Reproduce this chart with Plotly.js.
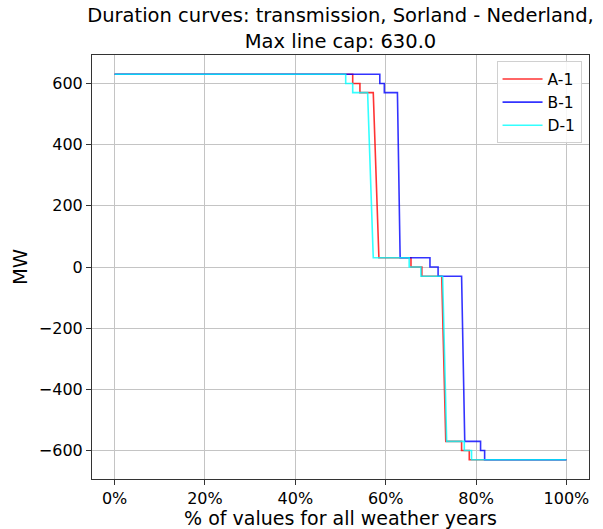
<!DOCTYPE html>
<html>
<head>
<meta charset="utf-8">
<script src="https://cdn.plot.ly/plotly-3.0.1.min.js"></script>
<style>
  html, body { margin: 0; padding: 0; background: #fff; }
  #chart { width: 603px; height: 529px; }
</style>
</head>
<body>
<div id="chart"></div>
<script>
// Flow levels (MW) visited by every duration curve, from highest to lowest.
const levels = [630, 630, 600, 600, 570, 570, 30, 30, 0, 0, -30, -30, -570, -570, -600, -600, -630, -630];

// Share of hours (%) at which each curve reaches the corresponding level.
const pctA1 = [0, 52.7, 52.7, 54.3, 54.3, 57.25, 58.5, 65.6, 65.6, 68.0, 68.0, 72.4, 73.3, 76.8, 76.8, 78.5, 78.5, 100];
const pctB1 = [0, 58.7, 58.7, 59.7, 59.7, 62.6, 63.2, 69.8, 69.8, 71.6, 71.6, 76.8, 77.5, 81.0, 81.0, 81.9, 81.9, 100];
const pctD1 = [0, 51.15, 51.15, 52.7, 52.7, 56.0, 57.25, 65.2, 65.2, 67.8, 67.8, 72.6, 73.5, 77.4, 77.4, 79.0, 79.0, 100];

const seriesNames = ['A-1', 'B-1', 'D-1'];
const seriesPct = [pctA1, pctB1, pctD1];
const seriesColors = ['rgba(255,0,0,0.8)', 'rgba(0,0,255,0.8)', 'rgba(0,255,255,0.8)'];

const xTickVals = [0, 20, 40, 60, 80, 100];
const xTickText = xTickVals.map(v => v + '%');
const yTickVals = [-600, -400, -200, 0, 200, 400, 600];

const traces = seriesNames.map((name, i) => ({
  type: 'scatter',
  mode: 'lines',
  name: name,
  x: seriesPct[i],
  y: levels,
  line: { color: seriesColors[i], width: 1.6 },
  hoverinfo: 'x+y+name'
}));

const font = { family: 'DejaVu Sans, sans-serif', color: '#000' };

const axisCommon = {
  showgrid: true,
  gridcolor: '#c4c4c4',
  gridwidth: 1,
  zeroline: false,
  showline: true,
  linecolor: '#333',
  linewidth: 1,
  mirror: true,
  ticks: 'outside',
  ticklen: 5,
  tickwidth: 1,
  tickcolor: '#333',
  tickfont: Object.assign({ size: 16 }, font)
};

const layout = {
  width: 603,
  height: 529,
  paper_bgcolor: '#fff',
  plot_bgcolor: '#fff',
  margin: { l: 92, r: 14, t: 55, b: 50 },
  font: font,
  title: {
    text: 'Duration curves: transmission, Sorland - Nederland,<br>Max line cap: 630.0',
    font: Object.assign({ size: 19.5 }, font),
    xref: 'paper',
    x: 0.5,
    xanchor: 'center',
    yref: 'container',
    y: 0.958,
    yanchor: 'bottom'
  },
  xaxis: Object.assign({}, axisCommon, {
    range: [-5, 105],
    tickmode: 'array',
    tickvals: xTickVals,
    ticktext: xTickText,
    title: { text: '% of values for all weather years', font: Object.assign({ size: 19 }, font), standoff: 4 }
  }),
  yaxis: Object.assign({}, axisCommon, {
    range: [-693, 693],
    tickvals: yTickVals,
    title: { text: 'MW', font: Object.assign({ size: 19.5 }, font), standoff: 6 }
  }),
  legend: {
    x: 0.985,
    y: 0.985,
    xanchor: 'right',
    yanchor: 'top',
    bgcolor: 'rgba(255,255,255,0.85)',
    bordercolor: '#d0d0d0',
    borderwidth: 1,
    font: Object.assign({ size: 15.5 }, font),
    itemwidth: 40,
    tracegroupgap: 0
  },
  showlegend: true
};

Plotly.newPlot('chart', traces, layout, { displayModeBar: false, staticPlot: true });
</script>
</body>
</html>
